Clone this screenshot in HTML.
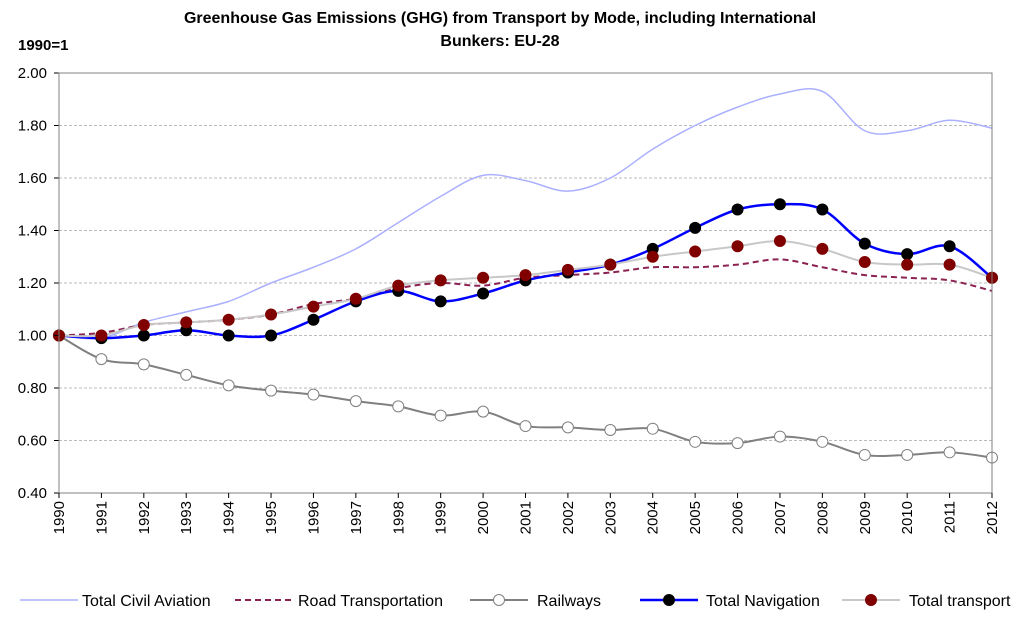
<!DOCTYPE html>
<html><head><meta charset="utf-8"><style>
body{margin:0;background:#fff;font-family:"Liberation Sans",Arial,sans-serif}
svg text{font-family:"Liberation Sans",Arial,sans-serif}
</style></head><body>
<svg id="c" width="1024" height="618" xmlns="http://www.w3.org/2000/svg">
<text x="500" y="23" text-anchor="middle" font-size="16" font-weight="bold">Greenhouse Gas Emissions (GHG) from Transport by Mode, including International</text>
<text x="500" y="46" text-anchor="middle" font-size="16" font-weight="bold">Bunkers: EU-28</text>
<text x="18" y="50" font-size="15" font-weight="bold">1990=1</text>
<g id="grid"></g><g id="series"></g><g id="axes"></g><g id="legend"></g>
</svg>
<script>
const years=["1990","1991","1992","1993","1994","1995","1996","1997","1998","1999","2000","2001","2002","2003","2004","2005","2006","2007","2008","2009","2010","2011","2012"];
const yTicks=[0.4,0.6,0.8,1.0,1.2,1.4,1.6,1.8,2.0];
const aviation=[1.00,0.99,1.05,1.09,1.13,1.20,1.26,1.33,1.43,1.53,1.61,1.59,1.55,1.60,1.71,1.80,1.87,1.92,1.93,1.78,1.78,1.82,1.79];
const road=[1.00,1.01,1.04,1.05,1.06,1.08,1.12,1.14,1.18,1.20,1.19,1.22,1.23,1.24,1.26,1.26,1.27,1.29,1.26,1.23,1.22,1.21,1.17];
const railways=[1.00,0.91,0.89,0.85,0.81,0.79,0.775,0.75,0.73,0.695,0.71,0.655,0.65,0.64,0.645,0.595,0.59,0.615,0.595,0.545,0.545,0.555,0.535];
const navigation=[1.00,0.99,1.00,1.02,1.00,1.00,1.06,1.13,1.17,1.13,1.16,1.21,1.24,1.27,1.33,1.41,1.48,1.50,1.48,1.35,1.31,1.34,1.22];
const total=[1.00,1.00,1.04,1.05,1.06,1.08,1.11,1.14,1.19,1.21,1.22,1.23,1.25,1.27,1.30,1.32,1.34,1.36,1.33,1.28,1.27,1.27,1.22];
const NS="http://www.w3.org/2000/svg";
const X0=59,X1=992,Y0=493,Y1=73;
const xs=i=>X0+(X1-X0)*i/(years.length-1);
const ys=v=>Y0-(v-0.4)/(2.0-0.4)*(Y0-Y1);
function mk(t,a,p){const e=document.createElementNS(NS,t);for(const k in a)e.setAttribute(k,a[k]);p.appendChild(e);return e;}
const g=document.getElementById('grid'),s=document.getElementById('series'),ax=document.getElementById('axes'),lg=document.getElementById('legend');
yTicks.forEach(v=>{
 if(v>0.4&&v<2.0){const l=mk('line',{x1:X0,x2:X1,y1:ys(v),y2:ys(v),stroke:'#bbb','stroke-dasharray':'3,2'},g);
 
 }
 const t=mk('text',{x:X0-12,y:ys(v)+5,'text-anchor':'end','font-size':'15'},ax);t.textContent=v.toFixed(2);
 
 
 mk('line',{x1:X0-5,x2:X0,y1:ys(v),y2:ys(v),stroke:'#000'},ax);
});
const fr=mk('rect',{x:X0,y:Y1,width:X1-X0,height:Y0-Y1,fill:'none',stroke:'#808080'},ax);


years.forEach((y,i)=>{
 mk('line',{x1:xs(i),x2:xs(i),y1:Y0,y2:Y0+5,stroke:'#000'},ax);
 const t=mk('text',{x:0,y:0,'text-anchor':'end','font-size':'15',transform:`translate(${xs(i)+5},${Y0+8}) rotate(-90)`},ax);t.textContent=y;
 
 
});
function path(d){const p=d.map((v,i)=>[xs(i),ys(v)]);let str=`M${p[0][0]},${p[0][1]}`;
 for(let i=0;i<p.length-1;i++){const a=p[Math.max(0,i-1)],b=p[i],c=p[i+1],e=p[Math.min(p.length-1,i+2)];
 const c1=[b[0]+(c[0]-a[0])/6,b[1]+(c[1]-a[1])/6],c2=[c[0]-(e[0]-b[0])/6,c[1]-(e[1]-b[1])/6];
 str+=` C${c1[0]},${c1[1]} ${c2[0]},${c2[1]} ${c[0]},${c[1]}`;}return str;}
const defs=[
 {d:aviation,name:'Total Civil Aviation',stroke:'#aab0ff',w:1.5,dash:null,m:null,id:'aviation',r:5.5},
 {d:road,name:'Road Transportation',stroke:'#8b2252',w:2,dash:'6,4',m:null,id:'road',r:5.5},
 {d:railways,name:'Railways',stroke:'#808080',w:2,dash:null,m:{f:'#fff',s:'#808080'},id:'railways',r:5.5},
 {d:navigation,name:'Total Navigation',stroke:'#0000ff',w:2.5,dash:null,m:{f:'#000',s:'#000'},id:'navigation',r:5.5},
 {d:total,name:'Total transport',stroke:'#c8c8c8',w:2,dash:null,m:{f:'#800000',s:'#800000'},id:'total',r:5.5}];
defs.forEach(o=>{
 const p=mk('path',{d:path(o.d),fill:'none',stroke:o.stroke,'stroke-width':o.w},s);
 if(o.dash)p.setAttribute('stroke-dasharray',o.dash);
 
 
 if(o.m)o.d.forEach((v,i)=>{const c=mk('circle',{cx:xs(i),cy:ys(v),r:o.r,fill:o.m.f,stroke:o.m.s,'stroke-width':1},s);
 
 });
});
const leg=[[0,20,82],[1,235,298],[2,470,537],[3,640,706],[4,842,909]];
leg.forEach(([k,lx,tx])=>{const o=defs[k];
 const l=mk('line',{x1:lx,x2:lx+58,y1:600,y2:600,stroke:o.stroke,'stroke-width':o.w},lg);
 if(o.dash)l.setAttribute('stroke-dasharray',o.dash);
 
 
 if(o.m){const c=mk('circle',{cx:lx+29,cy:600,r:5.5,fill:o.m.f,stroke:o.m.s},lg);
 
 }
 const t=mk('text',{x:tx,y:606,'font-size':'16'},lg);t.textContent=o.name;
 
 
});
</script>
</body></html>
